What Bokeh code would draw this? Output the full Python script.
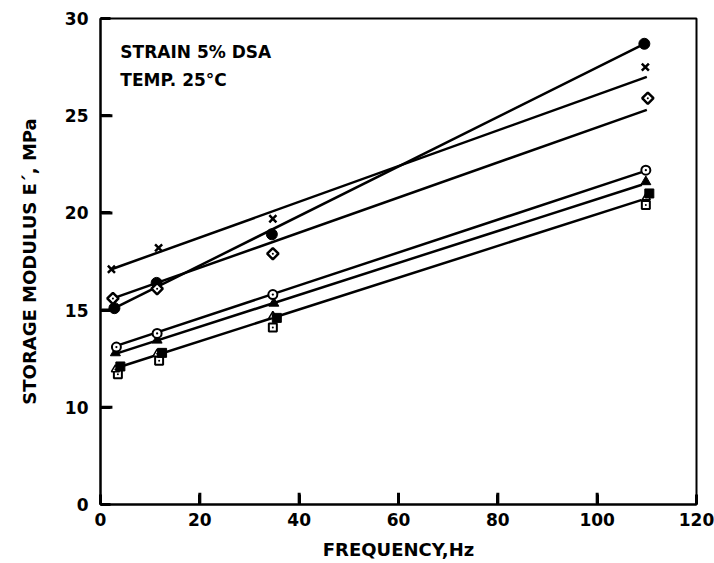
import math
from bokeh.plotting import figure
from bokeh.models import FixedTicker, Label
from bokeh.embed import file_html
from bokeh.resources import INLINE

# ---- data ----
cross_x = [2.2, 11.7, 34.7, 109.7]
cross_y = [17.1, 18.2, 19.7, 27.5]
dot_x = [2.8, 11.3, 34.5, 109.5]
dot_y = [15.1, 16.4, 18.9, 28.7]
dia_x = [2.5, 11.4, 34.7, 110.2]
dia_y = [15.6, 16.1, 17.9, 25.9]
ocirc_x = [3.2, 11.4, 34.7, 109.8]
ocirc_y = [13.1, 13.8, 15.8, 22.2]
tri_x = [3.0, 11.4, 34.9, 109.8]
tri_y = [12.8, 13.45, 15.35, 21.6]
sq_x = [4.0, 12.4, 35.5, 110.5]
sq_y = [12.1, 12.8, 14.6, 21.0]
otri_x = [3.0, 11.4, 34.7, 109.9]
otri_y = [11.95, 12.75, 14.7, 20.8]
osq_x = [3.5, 11.8, 34.7, 109.8]
osq_y = [11.7, 12.4, 14.1, 20.4]

# fitted straight lines (end points)
fit_cross_x = [2.2, 110.0]
fit_cross_y = [17.1, 27.0]
fit_dot_x = [2.8, 109.5]
fit_dot_y = [15.1, 28.7]
fit_dia_x = [2.5, 110.0]
fit_dia_y = [15.6, 25.3]
fit_ocirc_x = [3.0, 109.0]
fit_ocirc_y = [13.15, 22.1]
fit_tri_x = [3.0, 109.0]
fit_tri_y = [12.75, 21.45]
fit_sq_x = [3.5, 109.0]
fit_sq_y = [12.05, 20.67]

x_ticks = [0, 20, 40, 60, 80, 100, 120]
y_ticks = [5, 10, 15, 20, 25, 30]
y_tick_labels = {5: "0", 10: "10", 15: "15", 20: "20", 25: "25", 30: "30"}
X_MIN, X_MAX = 0, 120
Y_MIN, Y_MAX = 5, 30

FONT = "DejaVu Sans"

p = figure(width=714, height=563, output_backend="svg", toolbar_location=None,
           x_range=(X_MIN, X_MAX), y_range=(Y_MIN, Y_MAX),
           min_border_left=100, min_border_right=18, min_border_top=18, min_border_bottom=59)
p.grid.visible = False
p.outline_line_color = "black"
p.outline_line_width = 2
p.background_fill_color = "white"
p.border_fill_color = "white"

p.axis.major_tick_in = 10
p.axis.major_tick_out = 0
p.axis.minor_tick_in = 0
p.axis.minor_tick_out = 0
p.axis.major_tick_line_width = 3
p.axis.major_tick_line_color = "black"
p.axis.axis_line_width = 2
p.axis.axis_line_color = "black"
p.axis.major_label_text_font = FONT
p.axis.major_label_text_font_size = "17px"
p.axis.major_label_text_font_style = "bold"
p.axis.major_label_text_color = "black"
p.axis.axis_label_text_font = FONT
p.axis.axis_label_text_font_size = "18px"
p.axis.axis_label_text_font_style = "bold"
p.axis.axis_label_text_color = "black"

p.xaxis.ticker = FixedTicker(ticks=x_ticks)
p.yaxis.ticker = FixedTicker(ticks=y_ticks)
p.yaxis.major_label_overrides = y_tick_labels
p.xaxis.major_label_standoff = 8
p.yaxis.major_label_standoff = 12
p.xaxis.axis_label = "FREQUENCY,Hz"
p.yaxis.axis_label = "STORAGE MODULUS E´, MPa"
p.xaxis.axis_label_standoff = 10
p.yaxis.axis_label_standoff = 22

# inward tick marks, about 12 px long (length converted to data units of each axis)
TICK_LEN_Y = 0.6   # in MPa units
TICK_LEN_X = 2.4   # in Hz units
inner_x_ticks = x_ticks[1:-1]
inner_y_ticks = y_ticks[1:-1]
p.segment(x0=inner_x_ticks, y0=[Y_MIN + 0.05] * len(inner_x_ticks),
          x1=inner_x_ticks, y1=[Y_MIN + TICK_LEN_Y] * len(inner_x_ticks),
          line_color="black", line_width=3)
p.segment(x0=[X_MIN + 0.2] * len(inner_y_ticks), y0=inner_y_ticks,
          x1=[X_MIN + TICK_LEN_X] * len(inner_y_ticks), y1=inner_y_ticks,
          line_color="black", line_width=3)

LW = 2.5
for fx, fy in [(fit_cross_x, fit_cross_y), (fit_dot_x, fit_dot_y), (fit_dia_x, fit_dia_y),
               (fit_ocirc_x, fit_ocirc_y), (fit_tri_x, fit_tri_y), (fit_sq_x, fit_sq_y)]:
    p.line(fx, fy, line_color="black", line_width=LW)

p.scatter(cross_x, cross_y, marker="x", size=10, line_color="black", line_width=2.5)
p.scatter(dot_x, dot_y, marker="circle", size=11, fill_color="black", line_color="black")
p.scatter(dia_x, dia_y, marker="square_dot", size=8, angle=math.pi / 4,
          fill_color="white", line_color="black", line_width=2.5)
p.scatter(osq_x, osq_y, marker="square_dot", size=8, fill_color="white", line_color="black", line_width=2)
p.scatter(otri_x, otri_y, marker="triangle_dot", size=8, fill_color="white", line_color="black", line_width=1.5)
p.scatter(sq_x, sq_y, marker="square", size=9, fill_color="black", line_color="black")
p.scatter(tri_x, tri_y, marker="triangle", size=10, fill_color="black", line_color="black")
p.scatter(ocirc_x, ocirc_y, marker="circle_dot", size=9, fill_color="white", line_color="black", line_width=2)

p.add_layout(Label(x=4, y=28.3, text="STRAIN 5% DSA", text_font=FONT, text_font_size="17px",
                   text_font_style="bold", text_baseline="middle", text_color="black"))
p.add_layout(Label(x=4, y=26.85, text="TEMP. 25°C", text_font=FONT, text_font_size="17px",
                   text_font_style="bold", text_baseline="middle", text_color="black"))

open("out.html", "w").write(file_html(p, INLINE))
